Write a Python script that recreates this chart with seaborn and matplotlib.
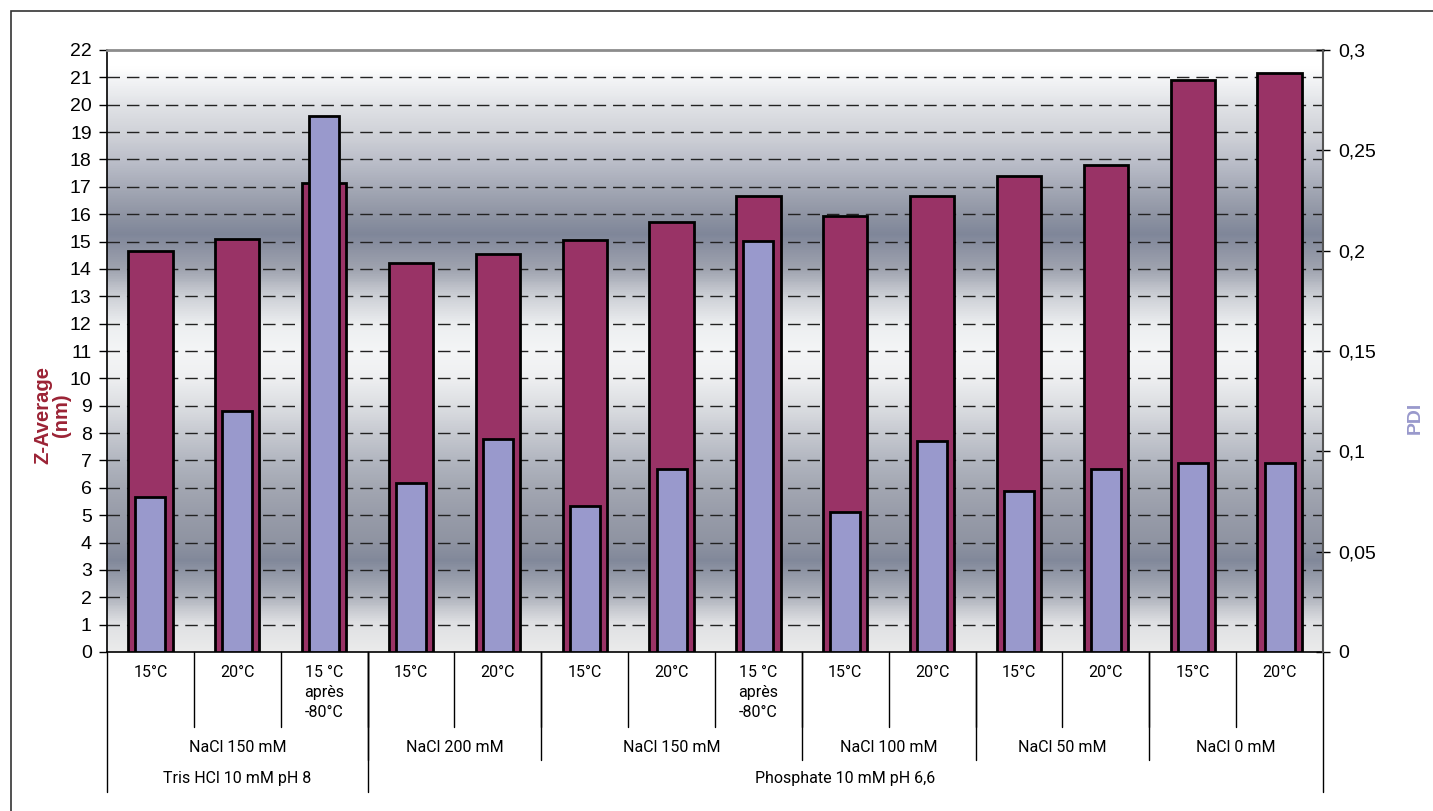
import numpy as np
import pandas as pd
import matplotlib
matplotlib.use("Agg")
import matplotlib.pyplot as plt
import seaborn as sns
from matplotlib.colors import LinearSegmentedColormap
from matplotlib.patches import Rectangle
import matplotlib.transforms as mtransforms

# ---------------- data ----------------
temp_labels = ["15°C", "20°C", "15 °C\naprès\n-80°C", "15°C", "20°C", "15°C", "20°C",
               "15 °C\naprès\n-80°C", "15°C", "20°C", "15°C", "20°C", "15°C", "20°C"]
z_average = [14.65, 15.1, 17.15, 14.2, 14.55, 15.05, 15.7, 16.65, 15.95, 16.65,
             17.4, 17.8, 20.9, 21.15]
pdi = [0.077, 0.120, 0.267, 0.084, 0.106, 0.073, 0.091, 0.205, 0.070, 0.105,
       0.080, 0.091, 0.094, 0.094]
nacl_groups = ["NaCl 150 mM", "NaCl 200 mM", "NaCl 150 mM", "NaCl 100 mM",
               "NaCl 50 mM", "NaCl 0 mM"]
nacl_sizes = [3, 2, 3, 2, 2, 2]
buffer_groups = ["Tris HCl 10 mM pH 8", "Phosphate 10 mM pH 6,6"]
buffer_sizes = [3, 11]

# ---------------- style ----------------
sns.set_theme(style="white")
plt.rcParams['font.family'] = ['Liberation Sans', 'DejaVu Sans']
plt.rcParams['text.color'] = 'black'
plt.rcParams['xtick.color'] = 'black'
plt.rcParams['ytick.color'] = 'black'
cat_family = ['Roboto', 'Liberation Sans', 'DejaVu Sans']

maroon = "#993366"
lilac = "#9999CC"

n = len(z_average)
cats = [str(i) for i in range(n)]
df = pd.DataFrame({"cat": cats, "z": z_average, "pdi": pdi})

W, H = 1433, 811
fig = plt.figure(figsize=(W / 100, H / 100), dpi=100)
L, R, T, B = 107, 1323, 50, 652
ax = fig.add_axes([L / W, 1 - B / H, (R - L) / W, (B - T) / H])

# gradient background
stops = [(0, "#ebebeb"), (1, "#dfe0e3"), (2, "#aeb2bc"), (3.3, "#81889a"), (4, "#8f94a2"),
         (5, "#989ca9"), (6, "#a3a7b2"), (7, "#b2b6c0"), (8, "#c7cad1"), (9, "#dcdee2"),
         (10, "#eeeff1"), (11, "#f4f5f6"), (12, "#eceef0"), (13, "#cdd0d6"), (14, "#a0a4b0"),
         (15.3, "#7f8699"), (16, "#8e94a3"), (17, "#a5a9b6"), (18, "#bcbfca"), (19, "#d0d2d8"),
         (20, "#e0e2e6"), (21, "#f3f4f6"), (21.4, "#ffffff"), (22, "#ffffff")]
cmap = LinearSegmentedColormap.from_list("bg", [(v / 22, c) for v, c in stops])
grad = np.linspace(0, 1, 500).reshape(-1, 1)
ax.imshow(grad, extent=[-0.5, n - 0.5, 0, 22], origin="lower", aspect="auto",
          cmap=cmap, zorder=0, interpolation="bilinear")

sns.barplot(data=df, x="cat", y="z", order=cats, color=maroon, saturation=1,
            width=0.51, edgecolor="black", linewidth=2.0, ax=ax, zorder=3)
ax.set_xlim(-0.5, n - 0.5)
ax.set_ylim(0, 22)
ax.set_yticks(range(0, 23))
for yv in range(1, 22):
    ax.axhline(yv, color="#222222", lw=1.0, ls=(0, (9, 5)), zorder=1)

ax2 = ax.twinx()
sns.barplot(data=df, x="cat", y="pdi", order=cats, color=lilac, saturation=1,
            width=0.345, edgecolor="black", linewidth=2.0, ax=ax2, zorder=4)
ax2.set_ylim(0, 0.3)
ax2.set_xlim(-0.5, n - 0.5)
ax2.set_yticks(np.arange(0, 0.301, 0.05))
ax2.set_yticklabels(["0", "0,05", "0,1", "0,15", "0,2", "0,25", "0,3"])

for a in (ax, ax2):
    a.set_xlabel("")
    a.set_ylabel("")
    a.set_xticks([])
    a.grid(False)

ax.tick_params(axis="y", labelsize=14, direction="out", length=6, width=1,
               colors="black", left=True, pad=5)
ax2.tick_params(axis="y", labelsize=14, direction="inout", length=10, width=1,
                colors="black", right=True, pad=6)

for sp in ["left", "bottom"]:
    ax.spines[sp].set_color("black")
    ax.spines[sp].set_linewidth(1.2)
ax.spines["top"].set_color("#8c8c8c")
ax.spines["top"].set_linewidth(2)
ax.spines["right"].set_visible(False)
ax2.spines["right"].set_color("#555555")
ax2.spines["right"].set_linewidth(1.5)
for sp in ["left", "top", "bottom"]:
    ax2.spines[sp].set_visible(False)

fig.text(52 / W, 1 - 415 / H, "Z-Average\n(nm)", rotation=90, ha="center", va="center",
         fontsize=14.5, fontweight="bold", color="#9b2335", linespacing=0.95)
fig.text(1415 / W, 1 - 418 / H, "PDI", rotation=90, ha="center", va="center",
         fontsize=14, fontweight="bold", color=lilac)

# multi-level category labels
trans = mtransforms.blended_transform_factory(ax.transData, fig.transFigure)
def fy(py):
    return 1 - py / H

for i, lab in enumerate(temp_labels):
    ax.text(i, fy(665), lab, transform=trans, ha="center", va="top", fontsize=11.5,
            family=cat_family, linespacing=1.4, clip_on=False)

line_kw = dict(color="black", lw=1, transform=trans, clip_on=False)
for i in range(1, n):
    ax.plot([i - 0.5, i - 0.5], [fy(652), fy(727)], **line_kw)

pos = 0
for lab, s in zip(nacl_groups, nacl_sizes):
    ax.text(pos + s / 2 - 0.5, fy(748), lab, transform=trans, ha="center", va="center",
            fontsize=11.5, family=cat_family, clip_on=False)
    pos += s
    if pos < n:
        ax.plot([pos - 0.5, pos - 0.5], [fy(652), fy(760)], **line_kw)

pos = 0
for lab, s in zip(buffer_groups, buffer_sizes):
    ax.text(pos + s / 2 - 0.5, fy(779), lab, transform=trans, ha="center", va="center",
            fontsize=11.5, family=cat_family, clip_on=False)
    pos += s
    ax.plot([pos - 0.5, pos - 0.5], [fy(652), fy(792)], **line_kw)
ax.plot([-0.5, -0.5], [fy(652), fy(792)], **line_kw)

# outer frame
fig.patches.append(Rectangle((11 / W, -0.1), 1.2, 1 - 11 / H + 0.1, transform=fig.transFigure,
                             fill=False, edgecolor="#333333", lw=1.2))

fig.savefig("out.png", dpi=100)
